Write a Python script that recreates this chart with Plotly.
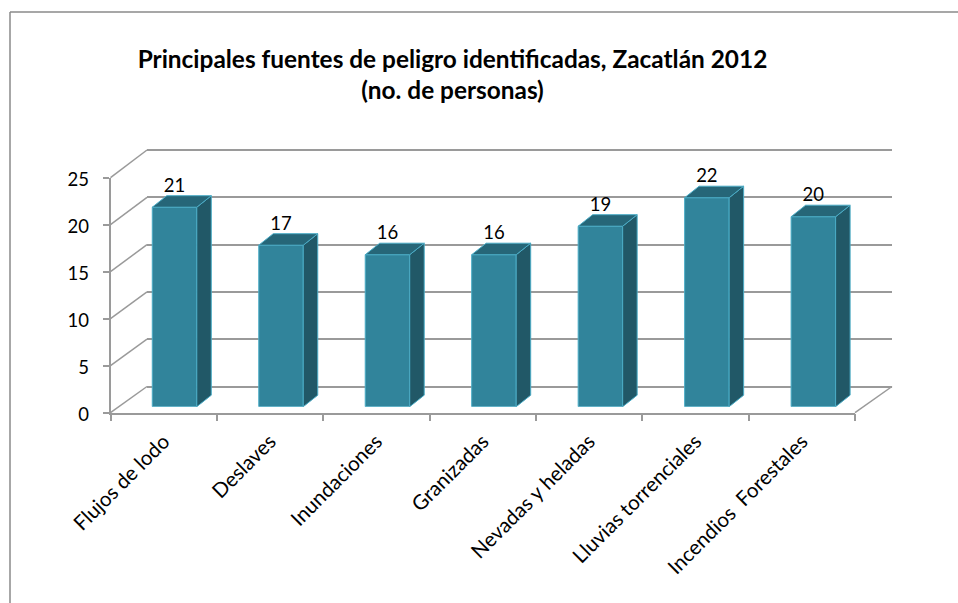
import plotly.graph_objects as go
import numpy as np

categories = ["Flujos de lodo", "Deslaves", "Inundaciones", "Granizadas",
              "Nevadas y heladas", "Lluvias torrenciales", "Incendios\u00a0 Forestales"]
values = [21, 17, 16, 16, 19, 22, 20]
y_ticks = [0, 5, 10, 15, 20, 25]
title_lines = ["Principales fuentes de peligro identificadas, Zacatlán 2012", "(no. de personas)"]

W, H = 958, 603
FONT = "Lato"
GREY = "#9a9a9a"
FRONT, SIDE, TOP, EDGE = "#31849b", "#215867", "#266678", "#4bacc6"


def dx(a, b):
    return [a / W, b / W]


def dy(bottom, top):
    return [1 - bottom / H, 1 - top / H]


BAR_UNIT_PX = 9.5
CAT_PX = 106.47
WALL_UNIT_PX = 9.46
depth_x = 14.5 / CAT_PX
depth_y = 11.5 / BAR_UNIT_PX
bar_w = 0.418

fig = go.Figure()

# back wall (x/y) -- only gridlines; the range runs one unit past 0 and 25 so both end lines are drawn
fig.add_trace(go.Scatter(x=[0.5], y=[0], mode="markers", marker=dict(opacity=0),
                         hoverinfo="skip", showlegend=False))
fig.update_layout(
    xaxis=dict(domain=dx(147, 892), range=[0, 1], showticklabels=False, showgrid=False, zeroline=False,
               showline=False, ticks="", fixedrange=True, automargin=False),
    yaxis=dict(domain=dy(386.5 + WALL_UNIT_PX, 150 - WALL_UNIT_PX), range=[-1, 26], tickvals=y_ticks,
               showticklabels=False, ticks="", showgrid=True, gridcolor=GREY, gridwidth=1.5, zeroline=False,
               showline=False, anchor="x", fixedrange=True, automargin=False),
)

# front axes (x2/y2) -- axis lines, ticks and labels
fig.add_trace(go.Scatter(x=categories, y=values, mode="markers", marker=dict(opacity=0),
                         xaxis="x2", yaxis="y2", hoverinfo="skip", showlegend=False))
fig.update_layout(
    xaxis2=dict(domain=dx(110.5, 855), type="category", categoryorder="array", categoryarray=categories,
                range=[-0.5, 6.5], tickson="boundaries", ticks="outside", ticklen=7, tickwidth=1.5,
                tickcolor=GREY, linecolor=GREY, linewidth=1.5, showline=True, showgrid=False,
                tickangle=-45, tickfont=dict(family=FONT, size=20.5, color="#000"), ticklabelstandoff=7,
                anchor="y2", fixedrange=True, automargin=False),
    yaxis2=dict(domain=dy(412.7, 177.7), range=[0, 25], tickvals=y_ticks, ticks="outside", ticklen=6,
                tickwidth=1.5, tickcolor=GREY, linecolor=GREY, linewidth=1.5, showline=True, showgrid=False,
                zeroline=False, tickfont=dict(family=FONT, size=18.5, color="#000"), ticklabelstandoff=10,
                ticklabelshift=2, anchor="x2", fixedrange=True, automargin=False),
)

# bars (x3/y3)
xs = np.arange(len(values))
side_x, side_y, top_x, top_y = [], [], [], []
for x, v in zip(xs, values):
    l, r = x - bar_w / 2, x + bar_w / 2
    side_x += [r, r + depth_x, r + depth_x, r, r, None]
    side_y += [0, depth_y, v + depth_y, v, 0, None]
    top_x += [l, l + depth_x, r + depth_x, r, l, None]
    top_y += [v, v + depth_y, v + depth_y, v, v, None]

fig.add_trace(go.Scatter(x=side_x, y=side_y, mode="lines", fill="toself", fillcolor=SIDE,
                         line=dict(color=EDGE, width=1), xaxis="x3", yaxis="y3",
                         hoverinfo="skip", showlegend=False))
fig.add_trace(go.Scatter(x=top_x, y=top_y, mode="lines", fill="toself", fillcolor=TOP,
                         line=dict(color=EDGE, width=1), xaxis="x3", yaxis="y3",
                         hoverinfo="skip", showlegend=False))
fig.add_trace(go.Bar(x=xs, y=values, width=bar_w, marker=dict(color=FRONT, line=dict(color=EDGE, width=1)),
                     xaxis="x3", yaxis="y3", showlegend=False))
fig.add_trace(go.Scatter(x=xs, y=[v + 20 / BAR_UNIT_PX for v in values], mode="text",
                         text=[str(v) for v in values], textposition="middle center",
                         textfont=dict(family=FONT, size=18.5, color="#000"), cliponaxis=False,
                         xaxis="x3", yaxis="y3", hoverinfo="skip", showlegend=False))
fig.update_layout(
    xaxis3=dict(domain=dx(121.3, 866.6), range=[-0.5, 6.5], visible=False, anchor="y3", fixedrange=True),
    yaxis3=dict(domain=dy(406.7, 169.2), range=[0, 25], visible=False, anchor="x3", fixedrange=True),
)

# depth connectors between front axes and back wall + chart frame
line = dict(color=GREY, width=1.5)
shapes = []
for t in y_ticks:
    f = t / 25
    shapes.append(dict(type="line", xref="paper", yref="paper", layer="below",
                       x0=110.5 / W, x1=147 / W,
                       y0=1 - (412.7 - f * 235) / H, y1=1 - (386.5 - f * 236.5) / H, line=line))
shapes.append(dict(type="line", xref="paper", yref="paper", layer="below", x0=855 / W, x1=892 / W,
                   y0=1 - 412.7 / H, y1=1 - 386.5 / H, line=line))
frame = dict(color="#8a8a8a", width=1.5)
shapes.append(dict(type="line", xref="paper", yref="paper", x0=10 / W, x1=1, y0=1 - 12 / H, y1=1 - 12 / H, line=frame))
shapes.append(dict(type="line", xref="paper", yref="paper", x0=10 / W, x1=10 / W, y0=0, y1=1 - 12 / H, line=frame))

fig.update_layout(
    template="none",
    width=W, height=H, margin=dict(l=0, r=0, t=0, b=0, pad=0), autosize=False,
    paper_bgcolor="white", plot_bgcolor="rgba(0,0,0,0)", showlegend=False, shapes=shapes,
    barmode="overlay",
    title=dict(text=f'<span style="font-size:24.4px">{title_lines[0]}</span><br>'
                    f'<span style="font-size:24.4px">{title_lines[1]}</span>',
               x=452.5 / W, xanchor="center", y=1 - 67.5 / H, yanchor="middle", automargin=False,
               font=dict(family=FONT, size=24.6, color="#000", weight="bold")),
)

fig.write_html("out.html", config={"displayModeBar": False},
               post_script="document.body.style.margin='0';document.documentElement.style.overflow='hidden';")
